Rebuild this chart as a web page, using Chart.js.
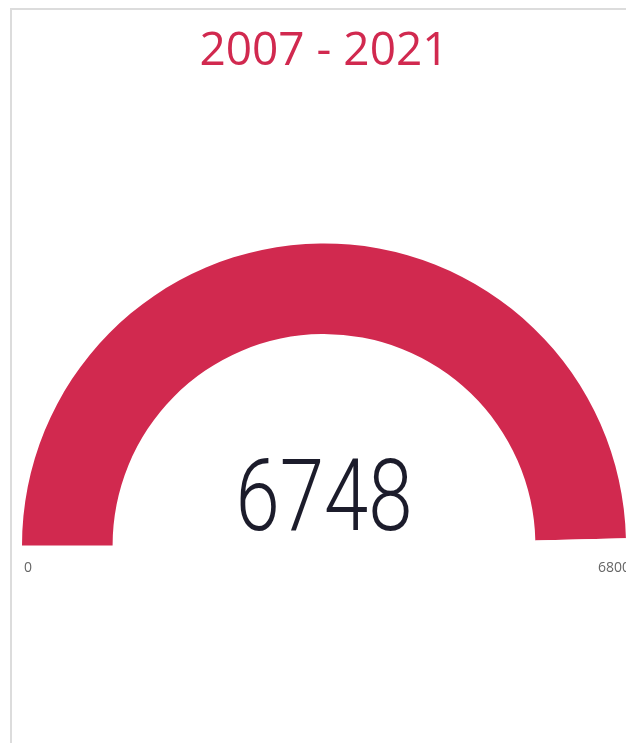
<!DOCTYPE html>
<html>
<head>
<meta charset="utf-8">
<script src="https://cdn.jsdelivr.net/npm/chart.js@4"></script>
<style>
  html, body { margin: 0; padding: 0; background: #fff; }
  #wrap { position: relative; width: 626px; height: 743px; overflow: hidden; }
  #frame { position: absolute; left: 10px; top: 8px; width: 640px; height: 760px;
           border-top: 2px solid #dcdcdc; border-left: 2px solid #dcdcdc; }
  #gauge { position: absolute; left: 0; top: 0; }
</style>
</head>
<body>
<div id="wrap">
  <div id="frame"></div>
  <canvas id="gauge" width="626" height="743"></canvas>
</div>
<script>
// Gauge data
const title = '2007 - 2021';
const gaugeValue = 6748;
const gaugeMin = 0;
const gaugeMax = 6800;
const tickLabels = ['0', '6800'];

const red = '#d1294f';

// Text drawn on top of the doughnut
const gaugeText = {
  id: 'gaugeText',
  afterDraw(chart) {
    const ctx = chart.ctx;
    const arc = chart.getDatasetMeta(0).data[0];
    const cx = arc.x, r = arc.outerRadius;
    ctx.save();

    // title
    ctx.fillStyle = red;
    ctx.font = '400 46px "Open Sans"';
    ctx.textAlign = 'center';
    ctx.textBaseline = 'alphabetic';
    ctx.fillText(title, 324, 65);

    // value
    ctx.save();
    ctx.translate(cx, 530);
    ctx.scale(0.79, 1);
    ctx.fillStyle = '#1c1c2b';
    ctx.font = '300 101px Roboto';
    ctx.fillText(String(gaugeValue), 0, 0);
    ctx.restore();

    // min / max
    ctx.fillStyle = '#666';
    ctx.font = '14px "Open Sans"';
    ctx.textAlign = 'left';
    ctx.fillText(tickLabels[0], cx - r + 2, 572);
    ctx.textAlign = 'right';
    ctx.fillText(tickLabels[1], cx + r + 4, 572);
    ctx.restore();
  }
};

new Chart(document.getElementById('gauge'), {
  type: 'doughnut',
  data: {
    labels: ['Value', 'Remaining'],
    datasets: [{
      data: [gaugeValue - gaugeMin, gaugeMax - gaugeValue],
      backgroundColor: [red, '#ffffff'],
      borderWidth: 0
    }]
  },
  options: {
    responsive: false,
    animation: false,
    rotation: -90,
    circumference: 180,
    cutout: '70%',
    layout: { padding: { left: 22, right: 0, top: 243, bottom: 197 } },
    plugins: {
      legend: { display: false },
      tooltip: { enabled: false }
    }
  },
  plugins: [gaugeText]
});
</script>
</body>
</html>
